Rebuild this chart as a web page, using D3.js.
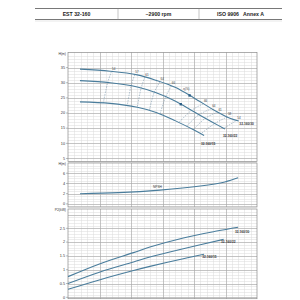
<!DOCTYPE html>
<meta charset="utf-8">
<script src="https://d3js.org/d3.v7.min.js"></script>
<style>
  body { margin: 0; background: #fff; }
  text { font-family: "Liberation Sans", Arial, sans-serif; }
</style>
<svg id="chart" width="300" height="300"></svg>
<script>

// Header cells
var headerCells = ["EST 32-160", "~2900 rpm", "ISO 9906   Annex A"];

// Head curves H(m) vs Q
var headTop = [[1.9,34.5],[6.7,33.8],[11,32.6],[14,30.8],[17,28.5],[20,25],[23,21.2],[25.7,18.3],[27.1,17.4]];
var headMid = [[1.9,30.7],[6.7,30],[11,28.6],[14,26.7],[17,24],[20,20.4],[23,16.9],[24.9,14.7]];
var headLow = [[1.9,23.7],[6.7,23.2],[11,21.9],[14,20.2],[17,17.5],[20,14.4],[21.6,12.6]];
var headNames = ["32-160/30", "32-160/22", "32-160/15"];

// Efficiency iso-lines: level and Q on top / mid / low curve
var etaLevels = ["54","57","61","64","66","66","64","61","58","54"];
var etaQ = [[6.9,6.3,5.6],[10.6,10,9.4],[12.2,11.6,11],[14.6,13.7,12.9],[16.4,15.5,14.6],
            [21.5,19.6,17.6],[22.8,20.8,18.8],[23.8,21.8,19.9],[25.3,23.3,21.1],[26.8,24.7,null]];
var bepQ = [19.3, 17.9];

// NPSH curve
var npsh = [[1.9,2.0],[8,2.2],[14.6,2.7],[21,3.5],[24.9,4.3],[27,5.1]];

// Power curves P2(kW)
var powTop = [[0,0.75],[5.1,1.22],[10.4,1.62],[13,1.82],[18.3,2.15],[23.6,2.4],[27,2.54]];
var powMid = [[0,0.5],[5.1,0.92],[10.4,1.28],[13,1.46],[18.3,1.76],[24.7,2.1]];
var powLow = [[0,0.29],[5.1,0.64],[10.4,0.97],[13,1.12],[18.3,1.4],[21.6,1.56]];

var headTicks = [5,10,15,20,25,30,35];
var npshTicks = [0,2,4,6];
var powTicks = [0,0.5,1,1.5,2,2.5];
var powTickLabels = ["0","0.5","1","1.5","2","2.5"];

var svg = d3.select("#chart");
var blue = "#4a7d9c";

var x = d3.scaleLinear().domain([0, 30]).range([68, 257]);

// header table
var hx = d3.scaleLinear().domain([0, 3]).range([35, 282]);
var cellEdges = [35, 118, 199, 282];
svg.append("line").attr("x1", 35).attr("x2", 282).attr("y1", 8.5).attr("y2", 8.5).attr("stroke", "#555").attr("stroke-width", 0.8);
svg.append("line").attr("x1", 35).attr("x2", 282).attr("y1", 19.5).attr("y2", 19.5).attr("stroke", "#555").attr("stroke-width", 0.8);
svg.append("line").attr("x1", 35).attr("x2", 282).attr("y1", 21).attr("y2", 21).attr("stroke", "#ccc").attr("stroke-width", 0.5);
svg.selectAll(".div").data([118, 199]).enter().append("line")
  .attr("x1", function(d){ return d; }).attr("x2", function(d){ return d; })
  .attr("y1", 8.5).attr("y2", 19.5).attr("stroke", "#888").attr("stroke-width", 0.5);
svg.selectAll(".hd").data(headerCells).enter().append("text")
  .attr("x", function(d, i){ return (cellEdges[i] + cellEdges[i+1]) / 2; })
  .attr("y", 15.8).attr("text-anchor", "middle")
  .attr("font-size", 5.2).attr("font-weight", "bold").attr("fill", "#222")
  .attr("xml:space", "preserve")
  .text(function(d){ return d; });

function panel(y, yMinorStep, yMajorStep, ticks, labels, title) {
  var g = svg.append("g");
  var d0 = y.domain()[0], d1 = y.domain()[1];
  // minor grid
  var ymin = d3.range(Math.ceil(d0 / yMinorStep) * yMinorStep, d1, yMinorStep);
  g.selectAll(".hmin").data(ymin).enter().append("line")
    .attr("x1", x.range()[0]).attr("x2", x.range()[1])
    .attr("y1", function(d){ return Math.round(y(d)) + 0.5; })
    .attr("y2", function(d){ return Math.round(y(d)) + 0.5; })
    .attr("stroke", "#dadada").attr("stroke-width", 0.5);
  g.selectAll(".vmin").data(d3.range(1, 30, 1)).enter().append("line")
    .attr("x1", function(d){ return Math.round(x(d)) + 0.5; })
    .attr("x2", function(d){ return Math.round(x(d)) + 0.5; })
    .attr("y1", y.range()[1]).attr("y2", y.range()[0])
    .attr("stroke", "#dadada").attr("stroke-width", 0.5);
  // major grid
  var ymaj = d3.range(Math.ceil(d0 / yMajorStep) * yMajorStep, d1, yMajorStep);
  g.selectAll(".hmaj").data(ymaj).enter().append("line")
    .attr("x1", x.range()[0]).attr("x2", x.range()[1])
    .attr("y1", function(d){ return Math.round(y(d)) + 0.5; })
    .attr("y2", function(d){ return Math.round(y(d)) + 0.5; })
    .attr("stroke", "#a8a8a8").attr("stroke-width", 0.6);
  g.selectAll(".vmaj").data(d3.range(5, 30, 5)).enter().append("line")
    .attr("x1", function(d){ return Math.round(x(d)) + 0.5; })
    .attr("x2", function(d){ return Math.round(x(d)) + 0.5; })
    .attr("y1", y.range()[1]).attr("y2", y.range()[0])
    .attr("stroke", "#a8a8a8").attr("stroke-width", 0.6);
  // frame
  g.append("rect").attr("x", x.range()[0]).attr("y", y.range()[1])
    .attr("width", x.range()[1] - x.range()[0]).attr("height", y.range()[0] - y.range()[1])
    .attr("fill", "none").attr("stroke", "#8a8a8a").attr("stroke-width", 0.7);
  // ticks + labels
  g.selectAll(".tk").data(ticks).enter().append("line")
    .attr("x1", x.range()[0] - 2).attr("x2", x.range()[0])
    .attr("y1", function(d){ return y(d); }).attr("y2", function(d){ return y(d); })
    .attr("stroke", "#777").attr("stroke-width", 0.5);
  g.selectAll(".tl").data(ticks).enter().append("text")
    .attr("x", x.range()[0] - 3).attr("y", function(d){ return y(d) + 1.3; })
    .attr("text-anchor", "end").attr("font-size", 3.8).attr("fill", "#333")
    .text(function(d, i){ return labels[i]; });
  g.append("text").attr("x", x.range()[0] - 2).attr("y", y.range()[1] + 2)
    .attr("text-anchor", "end").attr("font-size", 3.4).attr("fill", "#333").text(title);
  return g;
}

function curve(g, y, data, w) {
  var line = d3.line().x(function(d){ return x(d[0]); }).y(function(d){ return y(d[1]); })
    .curve(d3.curveCatmullRom);
  g.append("path").datum(data).attr("d", line)
    .attr("fill", "none").attr("stroke", blue).attr("stroke-width", w || 1.1);
}

function valueAt(data, q) {
  for (var i = 0; i < data.length - 1; i++) {
    if (q >= data[i][0] && q <= data[i+1][0]) {
      var t = (q - data[i][0]) / (data[i+1][0] - data[i][0]);
      return data[i][1] + t * (data[i+1][1] - data[i][1]);
    }
  }
  return data[data.length - 1][1];
}

// ---- Head chart
var y1 = d3.scaleLinear().domain([4, 40]).range([161.5, 52.5]);
var g1 = panel(y1, 1, 5, headTicks, headTicks.map(String), "H(m)");
var heads = [headTop, headMid, headLow];

// iso-efficiency dashed lines
etaQ.forEach(function(qs, k) {
  var pts = [];
  qs.forEach(function(q, j){ if (q !== null) pts.push([q, valueAt(heads[j], q)]); });
  g1.append("path").datum(pts)
    .attr("d", d3.line().x(function(d){ return x(d[0]); }).y(function(d){ return y1(d[1]); }).curve(d3.curveCatmullRom))
    .attr("fill", "none").attr("stroke", "#6f8fa6").attr("stroke-width", 0.5).attr("stroke-dasharray", "1.6,1");
  g1.append("text").attr("x", x(qs[0]) + 0.5).attr("y", y1(valueAt(headTop, qs[0])) - 1.5)
    .attr("font-size", 3).attr("fill", "#444").text(etaLevels[k]);
});
g1.append("text").attr("x", x(18.3)).attr("y", y1(valueAt(headTop, 19.3)) - 5)
  .attr("font-size", 3).attr("fill", "#444").text("η(%)");

heads.forEach(function(h){ curve(g1, y1, h); });

// BEP markers
[headTop, headMid].forEach(function(h, i) {
  g1.append("rect").attr("x", x(bepQ[i]) - 1.2).attr("y", y1(valueAt(h, bepQ[i])) - 1.2)
    .attr("width", 2.4).attr("height", 2.4).attr("fill", "#2a5d85");
});

var headLabelPos = [[27.2, 1], [24.6, 2], [21.1, 2.5]];
heads.forEach(function(h, i) {
  var last = h[h.length - 1];
  g1.append("text").attr("x", x(headLabelPos[i][0])).attr("y", y1(last[1] - headLabelPos[i][1]) + 1.5)
    .attr("font-size", 3.2).attr("font-weight", "bold").attr("fill", "#333").text(headNames[i]);
});

// ---- NPSH chart
var y2 = d3.scaleLinear().domain([-0.6, 8]).range([207, 163]);
var g2 = panel(y2, 0.5, 2, npshTicks, npshTicks.map(String), "H(m)");
curve(g2, y2, npsh);
g2.append("text").attr("x", x(13.5)).attr("y", y2(3.1)).attr("font-size", 3.2).attr("fill", "#333").text("NPSH");

// ---- Power chart
var y3 = d3.scaleLinear().domain([-0.05, 3.2]).range([298.7, 209]);
var g3 = panel(y3, 0.1, 0.5, powTicks, powTickLabels, "P2(kW)");
var pows = [powTop, powMid, powLow];
pows.forEach(function(p){ curve(g3, y3, p); });
var powLabelPos = [[26.5, -0.17], [24.3, -0.1], [21.3, -0.1]];
pows.forEach(function(p, i) {
  var last = p[p.length - 1];
  g3.append("text").attr("x", x(powLabelPos[i][0])).attr("y", y3(last[1] + powLabelPos[i][1]) + 1)
    .attr("font-size", 3.2).attr("font-weight", "bold").attr("fill", "#333").text(headNames[i]);
});

</script>
